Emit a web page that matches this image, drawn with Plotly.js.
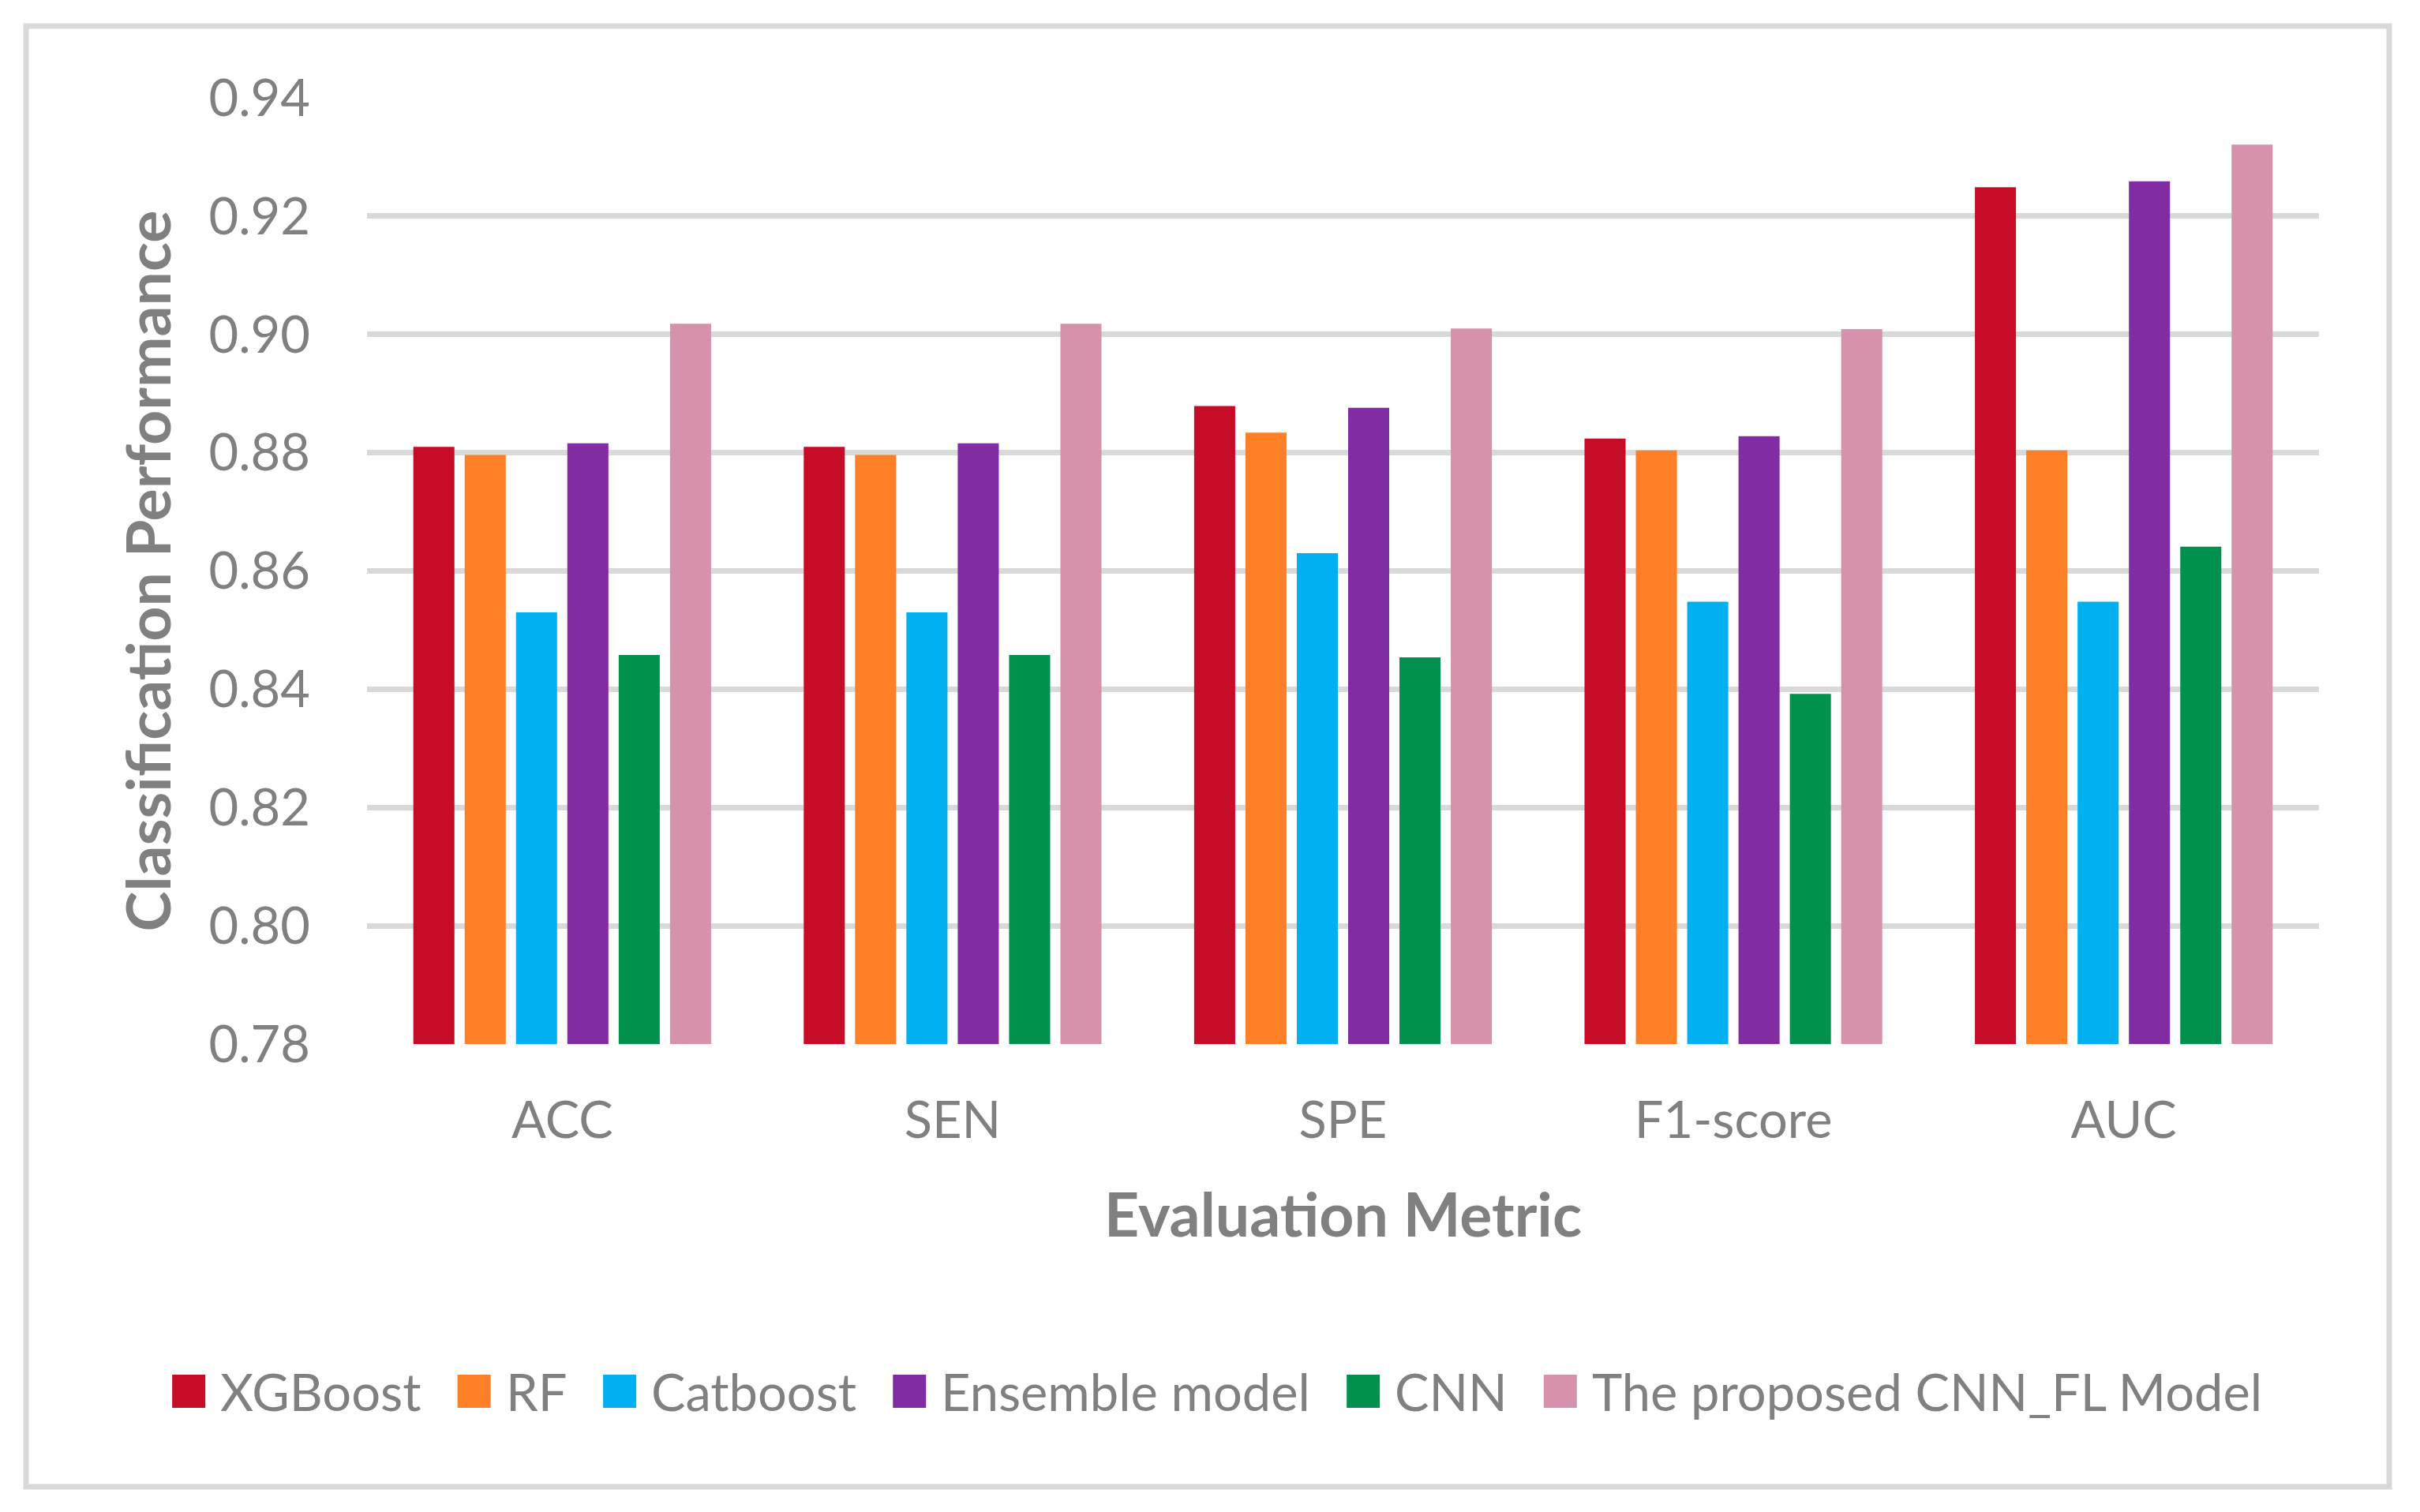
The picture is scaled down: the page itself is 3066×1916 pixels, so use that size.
<!DOCTYPE html>
<html>
<head>
<meta charset="utf-8">
<script src="https://cdn.plot.ly/plotly-3.0.1.min.js"></script>
<style>
  html, body { margin: 0; padding: 0; background: #ffffff; }
  #chart { width: 3066px; height: 1916px; }
</style>
</head>
<body>
<div id="chart"></div>
<script>
// ---- Data ----
const categories = ["ACC", "SEN", "SPE", "F1-score", "AUC"];
const seriesNames = ["XGBoost", "RF", "Catboost", "Ensemble model", "CNN", "The proposed CNN_FL Model"];
const xgboost  = [0.8810, 0.8810, 0.8879, 0.8824, 0.9249];
const rf       = [0.8796, 0.8796, 0.8834, 0.8804, 0.8804];
const catboost = [0.8530, 0.8530, 0.8630, 0.8548, 0.8548];
const ensemble = [0.8816, 0.8816, 0.8876, 0.8828, 0.9259];
const cnn      = [0.8458, 0.8458, 0.8454, 0.8392, 0.8641];
const proposed = [0.9018, 0.9018, 0.9010, 0.9009, 0.9321];
const yTickVals = [0.78, 0.80, 0.82, 0.84, 0.86, 0.88, 0.90, 0.92, 0.94];

const seriesValues = [xgboost, rf, catboost, ensemble, cnn, proposed];
const seriesColors = ["#C70C28", "#FF7F27", "#00B0F0", "#822CA4", "#00914F", "#D692AD"];

// ---- Layout geometry (pixels) ----
const W = 3066, H = 1916;
const M = { l: 465, r: 128, t: 124, b: 593 };
const pw = W - M.l - M.r, ph = H - M.t - M.b;
const px2x = p => (p - M.l) / pw;
const py2y = p => 1 - (p - M.t) / ph;

const FONT = "Lato, 'Open Sans', sans-serif";
const GRAY = "#808080";
const LEG_FONT_SIZE = 65;

function draw() {
  const traces = seriesNames.map((name, i) => ({
    type: "bar",
    name: name,
    x: categories,
    y: seriesValues[i],
    marker: { color: seriesColors[i], line: { width: 0 } },
    hoverinfo: "x+y+name"
  }));

  // ---- Custom legend (row of squares + labels centred under the chart) ----
  const ctx = document.createElement("canvas").getContext("2d");
  ctx.font = LEG_FONT_SIZE + "px Lato";
  const SQ = 42, SQ_TXT = 61, ITEM_GAP = 46, LEG_CX = 1543, LEG_CY = 1763;
  const widths = seriesNames.map(n => ctx.measureText(n).width);
  let total = 0;
  widths.forEach((w, i) => { total += SQ_TXT + w + (i < widths.length - 1 ? ITEM_GAP : 0); });
  let cur = LEG_CX - total / 2;
  const legShapes = [], legAnns = [];
  seriesNames.forEach((name, i) => {
    legShapes.push({
      type: "rect", xref: "paper", yref: "paper",
      x0: px2x(cur), x1: px2x(cur + SQ),
      y0: py2y(LEG_CY + SQ / 2), y1: py2y(LEG_CY - SQ / 2),
      fillcolor: seriesColors[i], line: { width: 0 }
    });
    legAnns.push({
      xref: "paper", yref: "paper",
      x: px2x(cur + SQ_TXT - 2), y: py2y(LEG_CY),
      xanchor: "left", yanchor: "middle",
      text: name, showarrow: false,
      font: { family: FONT, size: LEG_FONT_SIZE, color: GRAY }
    });
    cur += SQ_TXT + widths[i] + ITEM_GAP;
  });

  const layout = {
    width: W,
    height: H,
    margin: M,
    paper_bgcolor: "#ffffff",
    plot_bgcolor: "#ffffff",
    font: { family: FONT, color: GRAY, size: 65 },
    barmode: "group",
    bargap: 0.211,
    bargroupgap: 0.2,
    showlegend: false,
    xaxis: {
      type: "category",
      showgrid: false,
      zeroline: false,
      showline: false,
      ticks: "outside",
      ticklen: 40,
      tickcolor: "rgba(0,0,0,0)",
      tickfont: { family: FONT, size: 65, color: GRAY },
      title: {
        text: "<b>Evaluation Metric</b>",
        font: { family: FONT, size: 77, color: GRAY },
        standoff: 58
      },
      automargin: false
    },
    yaxis: {
      range: [0.78, 0.94],
      tickvals: yTickVals,
      tickformat: ".2f",
      showgrid: true,
      gridcolor: "#D9D9D9",
      gridwidth: 7,
      zeroline: false,
      showline: false,
      ticks: "outside",
      ticklen: 58,
      tickcolor: "rgba(0,0,0,0)",
      tickfont: { family: FONT, size: 65, color: GRAY },
      title: {
        text: "<b>Classification Performance</b>",
        font: { family: FONT, size: 77, color: GRAY },
        standoff: 22
      },
      automargin: false
    },
    shapes: [
      {
        type: "rect", xref: "paper", yref: "paper",
        x0: px2x(33), x1: px2x(3027), y0: py2y(33), y1: py2y(1884),
        line: { color: "#D9D9D9", width: 7 },
        fillcolor: "rgba(0,0,0,0)",
        layer: "below"
      }
    ].concat(legShapes),
    annotations: legAnns
  };

  Plotly.newPlot("chart", traces, layout, { displayModeBar: false, staticPlot: true });
}

if (document.fonts && document.fonts.load) {
  Promise.all([
    document.fonts.load("65px Lato"),
    document.fonts.load("bold 77px Lato")
  ]).then(draw, draw);
} else {
  draw();
}
</script>
</body>
</html>
